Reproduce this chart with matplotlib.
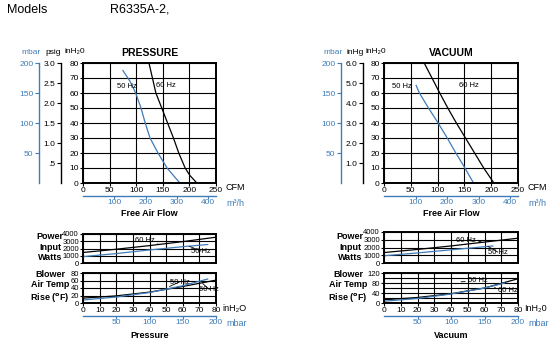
import matplotlib.pyplot as plt

W, H = 555, 343
BLUE = '#3f7cb8'

# ---- pressure side (main curve: inH2O vs CFM)
press_in_60 = [80, 60, 50, 40, 30, 20, 10, 5, 0]
press_cfm_60 = [124, 137, 148, 159, 170, 180, 192, 201, 214]
press_in_50 = [75, 68, 60, 50, 40, 30, 20, 10, 0]
press_cfm_50 = [75, 88, 99, 109, 117, 126, 141, 158, 182]

# pressure side lower panels (x in inH2O)
press_x60 = [0, 20, 40, 60, 80]
press_x50 = [0, 20, 40, 60, 75]
press_watts_60 = [1450, 1900, 2400, 2950, 3560]
press_watts_50 = [880, 1300, 1800, 2250, 2550]
press_temp_60 = [13, 19, 29, 44, 61]
press_temp_50 = [8, 16, 28, 46, 64]

# ---- vacuum side
vac_in_60 = [80, 60, 50, 40, 30, 20, 10, 0]
vac_cfm_60 = [75, 104, 119, 135, 152, 169, 186, 205]
vac_in_50 = [65, 60, 50, 40, 30, 20, 10, 0]
vac_cfm_50 = [60, 66, 83, 101, 118, 134, 151, 167]

vac_x60 = [0, 20, 40, 60, 80]
vac_xw50 = [0, 20, 40, 65]
vac_xt50 = [0, 20, 40, 60, 72]
vac_watts_60 = [1350, 1750, 2200, 2700, 3200]
vac_watts_50 = [930, 1300, 1700, 2200]
vac_temp_60 = [13, 22, 37, 60, 97]
vac_temp_50 = [7, 18, 36, 60, 80]

plt.rcParams['font.family'] = ['Liberation Sans', 'DejaVu Sans']
fig = plt.figure(figsize=(W / 100, H / 100), dpi=100)


def px_axes(x0, y0, x1, y1):
    return fig.add_axes([x0 / W, 1 - y1 / H, (x1 - x0) / W, (y1 - y0) / H])


def px_text(x, y, s, **kw):
    kw.setdefault('ha', 'center')
    kw.setdefault('va', 'center')
    kw.setdefault('fontsize', 6)
    fig.text(x / W, 1 - y / H, s, **kw)


def side_scale(x, top, ticks, labels, color):
    ax = px_axes(x, 63, x + 1, 183)
    for s in ['right', 'top', 'bottom']:
        ax.spines[s].set_visible(False)
    ax.patch.set_visible(False)
    ax.set_xticks([])
    ax.set_ylim(0, top)
    ax.set_yticks(ticks, labels)
    ax.spines['left'].set_color(color)
    ax.spines['left'].set_linewidth(1)
    ax.tick_params(axis='y', colors=color, labelsize=6, length=3, width=0.8, pad=1)


def bottom_scale(x0, x1, y, right, ticks, color):
    ax = px_axes(x0, y - 1, x1, y)
    for s in ['left', 'right', 'top']:
        ax.spines[s].set_visible(False)
    ax.patch.set_visible(False)
    ax.set_yticks([])
    ax.set_xlim(0, right)
    ax.set_xticks(ticks)
    ax.spines['bottom'].set_color(color)
    ax.spines['bottom'].set_linewidth(1)
    ax.tick_params(axis='x', colors=color, labelsize=6, length=2, width=0.8, pad=0.5)


def style_box(ax):
    for s in ax.spines.values():
        s.set_linewidth(1.4)
    ax.grid(True, color='k', lw=0.8)
    ax.set_axisbelow(True)
    ax.tick_params(labelsize=6, length=2, width=0.8, pad=1)


def leader(ax, text, xy, xytext):
    ax.annotate(text, xy=xy, xytext=xytext, fontsize=5.5, ha='center', va='center',
                arrowprops=dict(arrowstyle='-', lw=0.6, color='k', shrinkA=0, shrinkB=0))


def draw_side(x0, x1, scale_x, title, unit2, top2, ticks2, labels2,
              c60, p60, c50, p50, pos50, pos60,
              xw60, w60, xw50, w50, xt60, t60, xt50, t50,
              temp_top, temp_ticks, lab_w, lab_t,
              pw_y, xunit, bottom_title, row_x):
    # main chart
    ax = px_axes(x0, 63, x1, 183)
    ax.plot(c60, p60, color='k', lw=0.9)
    ax.plot(c50, p50, color=BLUE, lw=0.9)
    ax.set_xlim(0, 250)
    ax.set_ylim(0, 80)
    ax.set_xticks(range(0, 251, 50))
    ax.set_yticks(range(0, 81, 10))
    style_box(ax)
    ax.text(*pos50, '50 Hz', fontsize=5.5, ha='center', va='center')
    ax.text(*pos60, '60 Hz', fontsize=5.5, ha='center', va='center')

    side_scale(scale_x[0], 200, [50, 100, 150, 200], ['50', '100', '150', '200'], BLUE)
    side_scale(scale_x[1], top2, ticks2, labels2, 'k')
    px_text(scale_x[0] - 8, 52, 'mbar', color=BLUE)
    px_text(scale_x[1] - 8, 52, unit2)
    px_text(x0 - 8, 52, 'inH₂0')
    px_text((x0 + x1) / 2, 53, title, fontsize=7.5, fontweight='bold')

    px_text(x1 + 10, 188, 'CFM', ha='left', fontsize=6.5)
    bottom_scale(x0, x1, 196, 250 * 1.699, [100, 200, 300, 400], BLUE)
    px_text(x1 + 10, 203, 'm³/h', ha='left', color=BLUE, fontsize=6.5)
    px_text((x0 + x1) / 2, 214, 'Free Air Flow', fontsize=6.5, fontweight='bold')

    # power input
    axw = px_axes(x0, pw_y, x1, 263)
    axw.plot(xw60, w60, color='k', lw=0.9)
    axw.plot(xw50, w50, color=BLUE, lw=0.9)
    axw.set_xlim(0, 80)
    axw.set_ylim(0, 4000)
    axw.set_xticks(range(0, 81, 10), [])
    axw.set_yticks(range(0, 4001, 1000))
    style_box(axw)
    axw.tick_params(axis='x', length=0)
    axw.tick_params(axis='y', labelsize=5.5)
    leader(axw, '60 Hz', *lab_w[0])
    leader(axw, '50 Hz', *lab_w[1])

    # air temp rise
    axt = px_axes(x0, 273, x1, 303)
    axt.plot(xt60, t60, color='k', lw=0.9)
    axt.plot(xt50, t50, color=BLUE, lw=0.9)
    axt.set_xlim(0, 80)
    axt.set_ylim(0, temp_top)
    axt.set_xticks(range(0, 81, 10))
    axt.set_yticks(temp_ticks)
    axt.set_yticks(range(0, temp_top + 1, 20), minor=True)
    style_box(axt)
    axt.grid(True, which='minor', axis='y', color='k', lw=0.8)
    axt.tick_params(which='minor', length=0)
    axt.tick_params(axis='y', labelsize=5.5)
    leader(axt, '50 Hz', *lab_t[0])
    leader(axt, '60 Hz', *lab_t[1])

    px_text(x1 + 6, 309, xunit, ha='left', fontsize=6.5)
    bottom_scale(x0, x1, 316, 200, [50, 100, 150, 200], BLUE)
    px_text(x1 + 10, 324, 'mbar', ha='left', color=BLUE, fontsize=6.5)
    px_text((x0 + x1) / 2, 336, bottom_title, fontsize=6.5, fontweight='bold')

    px_text(row_x[0], 247, 'Power\nInput\nWatts', fontsize=6.5, fontweight='bold',
            linespacing=1.2)
    px_text(row_x[1], 287, 'Blower\nAir Temp\nRise ($^\\mathbf{o}$F)', fontsize=6.5,
            fontweight='bold', linespacing=1.2)


draw_side(83, 216, (39, 61), 'PRESSURE', 'psig', 3.0,
          [0.5, 1.0, 1.5, 2.0, 2.5, 3.0], ['.5', '1.0', '1.5', '2.0', '2.5', '3.0'],
          press_cfm_60, press_in_60, press_cfm_50, press_in_50, (82, 64), (156, 65),
          press_x60, press_watts_60, press_x50, press_watts_50,
          press_x60, press_temp_60, press_x50, press_temp_50,
          80, [0, 20, 40, 60, 80],
          [((46, 2550), (37, 3050)), ((64, 2300), (71, 1650))],
          [((52, 44), (58, 56)), ((72, 52), (76, 36))],
          234, 'inH₂O', 'Pressure', (50, 50))

draw_side(384, 518, (341, 363), 'VACUUM', 'inHg', 6.0,
          [1, 2, 3, 4, 5, 6], ['1.0', '2.0', '3.0', '4.0', '5.0', '6.0'],
          vac_cfm_60, vac_in_60, vac_cfm_50, vac_in_50, (34, 64), (158, 65),
          vac_x60, vac_watts_60, vac_xw50, vac_watts_50,
          vac_x60, vac_temp_60, vac_xt50, vac_temp_50,
          120, [0, 40, 80, 120],
          [((58, 2750), (49, 2950)), ((62, 2150), (68, 1400))],
          [((46, 85), (56, 88)), ((66, 62), (74, 50))],
          232, 'InH₂0', 'Vacuum', (350, 348))

fig.text(7 / W, 1 - 10 / H, 'Models', fontsize=9, va='center')
fig.text(110 / W, 1 - 10 / H, 'R6335A-2,', fontsize=9, va='center')

fig.savefig('out.png', dpi=100)
